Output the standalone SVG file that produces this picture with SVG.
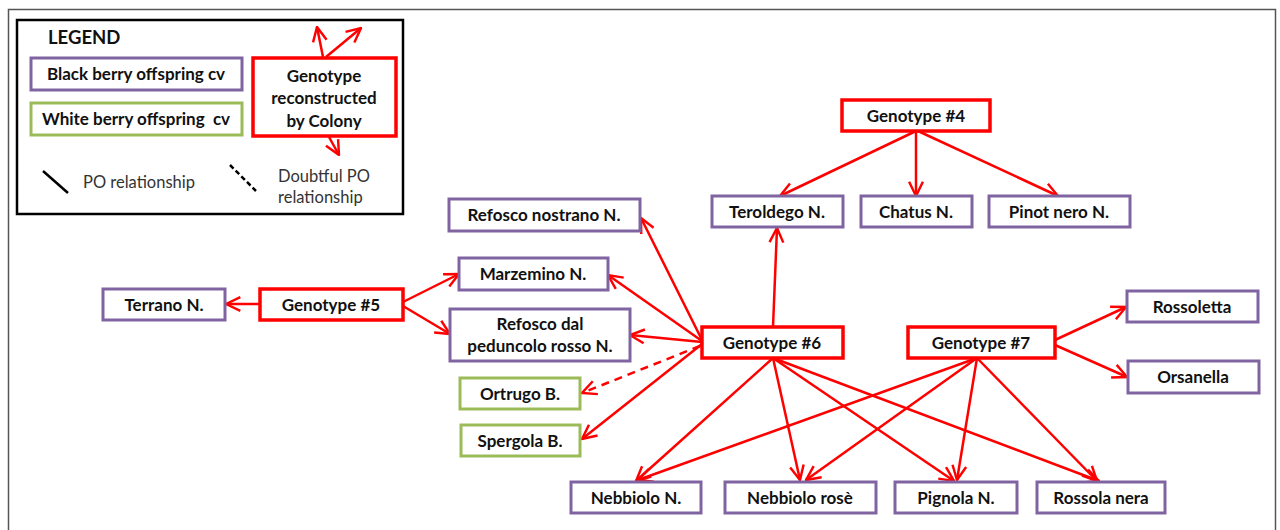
<svg xmlns="http://www.w3.org/2000/svg" width="1280" height="530" viewBox="0 0 1280 530">
<defs>
<marker id="ah" viewBox="0 0 16 16" refX="15" refY="8" markerWidth="17" markerHeight="17" markerUnits="userSpaceOnUse" orient="auto">
<path d="M1.5,1.5 L15,8 L1.5,14.5" fill="none" stroke="#ff0000" stroke-width="2.3"/>
</marker>
<style>
.blk{fill:#fff;stroke:#8064a2;stroke-width:3}
.wht{fill:#fff;stroke:#9bbb59;stroke-width:3}
.gen{fill:#fff;stroke:#ff0000;stroke-width:3.5}
.t{font-family:Lato,"Open Sans",sans-serif;font-weight:bold;font-size:17px;fill:#111;text-anchor:middle}
.n{font-family:Lato,"Open Sans",sans-serif;font-size:16.5px;fill:#333}
.e{fill:none;stroke:#ff0000;stroke-width:2.5;marker-end:url(#ah)}
.d{stroke-dasharray:8,6}
</style>
</defs>
<rect x="0" y="0" width="1280" height="530" fill="#fff"/>
<rect x="8.5" y="9.5" width="1267" height="560" fill="none" stroke="#555" stroke-width="1.5"/>
<g id="legend">
<rect x="17" y="20" width="386" height="194" fill="#fff" stroke="#000" stroke-width="2.5"/>
<text x="48" y="44" font-family="Lato,'Open Sans',sans-serif" font-weight="bold" font-size="18.5" fill="#111">LEGEND</text>
<rect class="blk" x="31" y="58" width="211" height="32"/>
<text class="t" x="136" y="80">Black berry offspring cv</text>
<rect class="wht" x="31" y="103" width="211" height="32"/>
<text class="t" x="136" y="125" xml:space="preserve">White berry offspring  cv</text>
<rect class="gen" x="253" y="58" width="143" height="78"/>
<text class="t" x="324" y="82">Genotype</text>
<text class="t" x="324" y="104">reconstructed</text>
<text class="t" x="324" y="127">by Colony</text>
<line class="e" x1="323" y1="57" x2="317" y2="27"/>
<line class="e" x1="326" y1="57" x2="361" y2="28"/>
<line class="e" x1="329" y1="137" x2="339" y2="155"/>
<line x1="43" y1="171" x2="68" y2="193" stroke="#000" stroke-width="2.5"/>
<text class="n" x="83" y="188">PO relationship</text>
<line x1="230" y1="165" x2="256" y2="191" stroke="#000" stroke-width="2.5" stroke-dasharray="5,3"/>
<text class="n" x="278" y="182">Doubtful PO</text>
<text class="n" x="278" y="203">relationship</text>
</g>
<g id="connectors">
<line class="e" x1="916" y1="131" x2="780" y2="196"/>
<line class="e" x1="916" y1="131" x2="916" y2="196"/>
<line class="e" x1="918" y1="131" x2="1058" y2="196"/>
<line class="e" x1="260" y1="304" x2="226" y2="304"/>
<line class="e" x1="403" y1="302" x2="459" y2="274"/>
<line class="e" x1="403" y1="306" x2="450" y2="334"/>
<line class="e" x1="702" y1="340" x2="641" y2="218"/>
<line class="e" x1="702" y1="341" x2="608" y2="275"/>
<line class="e" x1="702" y1="342" x2="630" y2="335"/>
<line class="e d" x1="700" y1="346" x2="582" y2="393"/>
<line class="e" x1="702" y1="344" x2="582" y2="439"/>
<line class="e" x1="773" y1="327" x2="777" y2="228"/>
<line class="e" x1="773" y1="358" x2="636" y2="481"/>
<line class="e" x1="773" y1="358" x2="800" y2="480"/>
<line class="e" x1="773" y1="358" x2="954" y2="481"/>
<line class="e" x1="773" y1="358" x2="1099" y2="481"/>
<line class="e" x1="977" y1="358" x2="638" y2="480"/>
<line class="e" x1="977" y1="358" x2="806" y2="480"/>
<line class="e" x1="977" y1="358" x2="957" y2="480"/>
<line class="e" x1="977" y1="358" x2="1097" y2="481"/>
<line class="e" x1="1055" y1="340" x2="1126" y2="307"/>
<line class="e" x1="1055" y1="345" x2="1127" y2="377"/>
</g>
<g id="g4"><rect class="gen" x="842" y="100" width="148" height="31"/><text class="t" x="916" y="121.5">Genotype #4</text></g>
<g id="teroldego"><rect class="blk" x="712" y="196" width="131" height="31"/><text class="t" x="777" y="217.5">Teroldego N.</text></g>
<g id="chatus"><rect class="blk" x="861" y="196" width="111" height="31"/><text class="t" x="916" y="217.5">Chatus N.</text></g>
<g id="pinot"><rect class="blk" x="989" y="196" width="141" height="31"/><text class="t" x="1059" y="217.5">Pinot nero N.</text></g>
<g id="refosco-nostrano"><rect class="blk" x="449" y="199" width="191" height="32"/><text class="t" x="544" y="221">Refosco nostrano N.</text></g>
<g id="marzemino"><rect class="blk" x="459" y="258" width="149" height="32"/><text class="t" x="533" y="280">Marzemino N.</text></g>
<g id="terrano"><rect class="blk" x="103" y="289" width="122" height="31"/><text class="t" x="164" y="310.5">Terrano N.</text></g>
<g id="g5"><rect class="gen" x="260" y="289" width="143" height="31"/><text class="t" x="331" y="310.5">Genotype #5</text></g>
<g id="refosco-dal"><rect class="blk" x="450" y="309" width="180" height="52"/><text class="t" x="540" y="330">Refosco dal</text><text class="t" x="540" y="352">peduncolo rosso N.</text></g>
<g id="ortrugo"><rect class="wht" x="460" y="378" width="120" height="31"/><text class="t" x="520" y="399.5">Ortrugo B.</text></g>
<g id="spergola"><rect class="wht" x="461" y="425" width="119" height="31"/><text class="t" x="520" y="446.5">Spergola B.</text></g>
<g id="g6"><rect class="gen" x="702" y="327" width="141" height="31"/><text class="t" x="772" y="348.5">Genotype #6</text></g>
<g id="g7"><rect class="gen" x="908" y="327" width="147" height="31"/><text class="t" x="981" y="348.5">Genotype #7</text></g>
<g id="rossoletta"><rect class="blk" x="1127" y="291" width="131" height="31"/><text class="t" x="1192" y="312.5">Rossoletta</text></g>
<g id="orsanella"><rect class="blk" x="1128" y="361" width="131" height="32"/><text class="t" x="1193" y="383">Orsanella</text></g>
<g id="nebbiolo"><rect class="blk" x="571" y="482" width="130" height="31"/><text class="t" x="636" y="503.5">Nebbiolo N.</text></g>
<g id="nebbiolo-rose"><rect class="blk" x="725" y="482" width="151" height="31"/><text class="t" x="800" y="503.5">Nebbiolo rosè</text></g>
<g id="pignola"><rect class="blk" x="895" y="482" width="122" height="31"/><text class="t" x="956" y="503.5">Pignola N.</text></g>
<g id="rossola"><rect class="blk" x="1037" y="482" width="128" height="31"/><text class="t" x="1101" y="503.5">Rossola nera</text></g>
</svg>
